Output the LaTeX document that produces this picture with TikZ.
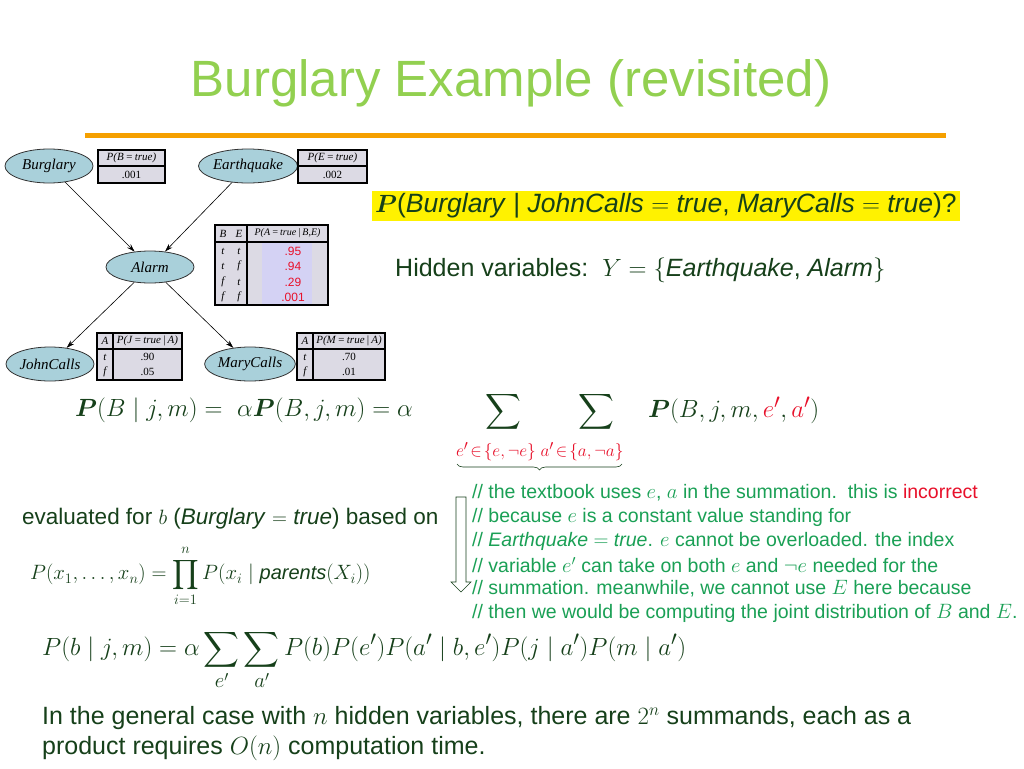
\documentclass[tikz,border=0pt]{standalone}
\usepackage{fontspec}
\usepackage{amsmath,bm}
\setmainfont{Liberation Sans}
\newfontfamily\serifbn{Liberation Serif}
\usetikzlibrary{shapes.geometric,arrows.meta,decorations.pathreplacing}
\definecolor{ttl}{HTML}{92D050}
\definecolor{dg}{HTML}{16401A}
\definecolor{cg}{HTML}{1AA055}
\definecolor{rd}{HTML}{E8102A}
\definecolor{ell}{HTML}{A9D0DA}
\definecolor{tab}{HTML}{DCDAE4}
\definecolor{lav}{HTML}{D4D2F4}
\definecolor{org}{HTML}{F5A000}
\begin{document}
\begin{tikzpicture}[x=1pt,y=-1pt,
  bn/.style={ellipse,draw=black!80,fill=ell,line width=0.8pt,minimum width=88pt,minimum height=34pt,inner sep=0pt,font=\fontsize{15}{16}\selectfont\itshape\serifbn},
  tb/.style={draw=black,line width=1.8pt,fill=tab},
  tt/.style={font=\fontsize{11}{12}\selectfont\itshape\serifbn},
  tv/.style={font=\fontsize{11}{12}\selectfont\serifbn},
  rv/.style={font=\fontsize{12}{13}\selectfont,text=rd},
  arr/.style={-{Stealth[length=8pt,width=5pt]},line width=0.6pt},
  body/.style={anchor=west,text=dg,font=\fontsize{25}{29}\selectfont,inner sep=0pt},
  com/.style={anchor=west,text=cg,font=\fontsize{19.5}{22}\selectfont,inner sep=0pt},
  frm/.style={anchor=west,text=dg,font=\fontsize{28}{32}\selectfont,inner sep=0pt}]
\useasboundingbox (0,0) rectangle (1024,768);
\fill[white] (0,0) rectangle (1024,768);
% title
\node[text=ttl,font=\fontsize{51}{56}\selectfont] (title) at (511,83) {Burglary Example (revisited)};
\draw[org,line width=5pt] (85,135) -- (946,135);
% Bayes net
\node[bn] (B) at (49,166) {Burglary};
\node[bn] (E) at (248,166) {Earthquake};
\node[bn,minimum height=32pt] (A) at (150,267) {Alarm};
\node[bn] (J) at (50,364) {JohnCalls};
\node[bn] (M) at (250,364) {MaryCalls};
\draw[arr] (B) -- (A);
\draw[arr] (E) -- (A);
\draw[arr] (A) -- (J);
\draw[arr] (A) -- (M);
% tables
\draw[tb] (98,150) rectangle (165,183); \draw[line width=1.4pt] (98,166) -- (165,166);
\node[tt] (tb1) at (131.5,158) {P(B\,=\,true)}; \node[tv] (tb2) at (131.5,175) {.001};
\draw[tb] (298,150) rectangle (367,183); \draw[line width=1.4pt] (298,166) -- (367,166);
\node[tt] (te1) at (332.5,158) {P(E\,=\,true)}; \node[tv] (te2) at (332.5,175) {.002};
\draw[tb] (215,225) rectangle (328,305);
\fill[lav] (262,243) rectangle (312,304);
\draw[line width=1.4pt] (215,242) -- (328,242); \draw[line width=1.4pt] (247,225) -- (247,305);
\node[tt] (ta0) at (223,233.5) {B}; \node[tt] (ta00) at (239,233.5) {E};
\node[tt,font=\fontsize{10}{11}\selectfont\itshape\serifbn] (ta01) at (287.5,233.5) {P(A\,=\,true\,|\,B,E)};
\foreach \y/\b/\e/\v [count=\i] in {251/t/t/.95,266/t/f/.94,282/f/t/.29,297/f/f/.001}{
  \node[tt] (tab\i) at (223,\y) {\b}; \node[tt] (tae\i) at (239,\y) {\e};
  \node[rv] (tav\i) at (293,\y) {\v};}
\draw[tb] (97,333) rectangle (182,380); \draw[line width=1.4pt] (97,349) -- (182,349); \draw[line width=1.4pt] (113,333) -- (113,380);
\node[tt] (tj0) at (105,341) {A}; \node[tt] (tj1) at (147.5,341) {P(J\,=\,true\,|\,A)};
\node[tt] (tj2) at (105,357) {t}; \node[tv] (tj3) at (147.5,357) {.90};
\node[tt] (tj4) at (105,372) {f}; \node[tv] (tj5) at (147.5,372) {.05};
\draw[tb] (297,333) rectangle (385,380); \draw[line width=1.4pt] (297,349) -- (385,349); \draw[line width=1.4pt] (313,333) -- (313,380);
\node[tt] (tm0) at (305,341) {A}; \node[tt] (tm1) at (349,341) {P(M\,=\,true\,|\,A)};
\node[tt] (tm2) at (305,357) {t}; \node[tv] (tm3) at (349,357) {.70};
\node[tt] (tm4) at (305,372) {f}; \node[tv] (tm5) at (349,372) {.01};
% query
\node[anchor=west,fill=yellow,text=dg,font=\fontsize{26.5}{29}\selectfont,inner xsep=3pt,inner ysep=3pt] (q) at (372,206)
 {$\bm{P}$(\textit{Burglary} | \textit{JohnCalls} $=$ \textit{true}, \textit{MaryCalls} $=$ \textit{true})?};
\node[body] (hid) at (395,270) {Hidden variables:\ \ $Y=\{$\textit{Earthquake}, \textit{Alarm}$\}$};
% main formula
\node[frm] (f1) at (75,410) {$\bm{P}(B\mid j,m) =\ \alpha\bm{P}(B,j,m) = \alpha$};
\node[text=dg,font=\fontsize{30}{34}\selectfont,inner sep=0pt] (s1) at (503,412) {$\displaystyle\sum$};
\node[text=dg,font=\fontsize{30}{34}\selectfont,inner sep=0pt] (s2) at (596,412) {$\displaystyle\sum$};
\node[text=rd,font=\fontsize{19}{22}\selectfont,inner sep=0pt] (sb1) at (496,452) {$e'\!\in\!\{e,\neg e\}$};
\node[text=rd,font=\fontsize{19}{22}\selectfont,inner sep=0pt] (sb2) at (582,452) {$a'\!\in\!\{a,\neg a\}$};
\node[frm] (f2) at (648,410) {$\bm{P}(B,j,m,\textcolor{rd}{e'},\textcolor{rd}{a'})$};
\draw[decorate,decoration={brace,mirror,amplitude=6pt},draw=dg,line width=0.6pt] (457,464) -- (622,464);
\draw[draw=dg,line width=0.6pt,fill=white] (456,497) -- (466,497) -- (466,582) -- (471,582) -- (461,592) -- (451,582) -- (456,582) -- cycle;
% comments
\node[com] (c1) at (472,493) {// the textbook uses $e$, $a$ in the summation.\ \ this is \textcolor{rd}{incorrect}};
\node[com] (c2) at (472,517) {// because $e$ is a constant value standing for};
\node[com] (c3) at (472,541) {// \textit{Earthquake} $=$ \textit{true}. $e$ cannot be overloaded. the index};
\node[com] (c4) at (472,565) {// variable $e'$ can take on both $e$ and $\neg e$ needed for the};
\node[com] (c5) at (472,589) {// summation. meanwhile, we cannot use $E$ here because};
\node[com] (c6) at (472,613) {// then we would be computing the joint distribution of $B$ and $E$.};
% evaluated
\node[body,font=\fontsize{22.5}{26}\selectfont] (ev) at (22,519) {evaluated for $b$ (\textit{Burglary} $=$ \textit{true}) based on};
\node[frm,font=\fontsize{20}{24}\selectfont] (pf) at (30,576) {$\displaystyle P(x_1,\dots,x_n)=\prod_{i=1}^{n}P(x_i\mid \textit{parents}(X_i))$};
% bottom formula
\node[frm,font=\fontsize{28}{32}\selectfont] (bf) at (42,660) {$\displaystyle P(b\mid j,m)=\alpha\sum_{e'}\sum_{a'}P(b)P(e')P(a'\mid b,e')P(j\mid a')P(m\mid a')$};
\node[body] (l1) at (42,718) {In the general case with $n$ hidden variables, there are $2^n$ summands, each as a};
\node[body] (l2) at (42,748) {product requires $O(n)$ computation time.};
\end{tikzpicture}
\end{document}
